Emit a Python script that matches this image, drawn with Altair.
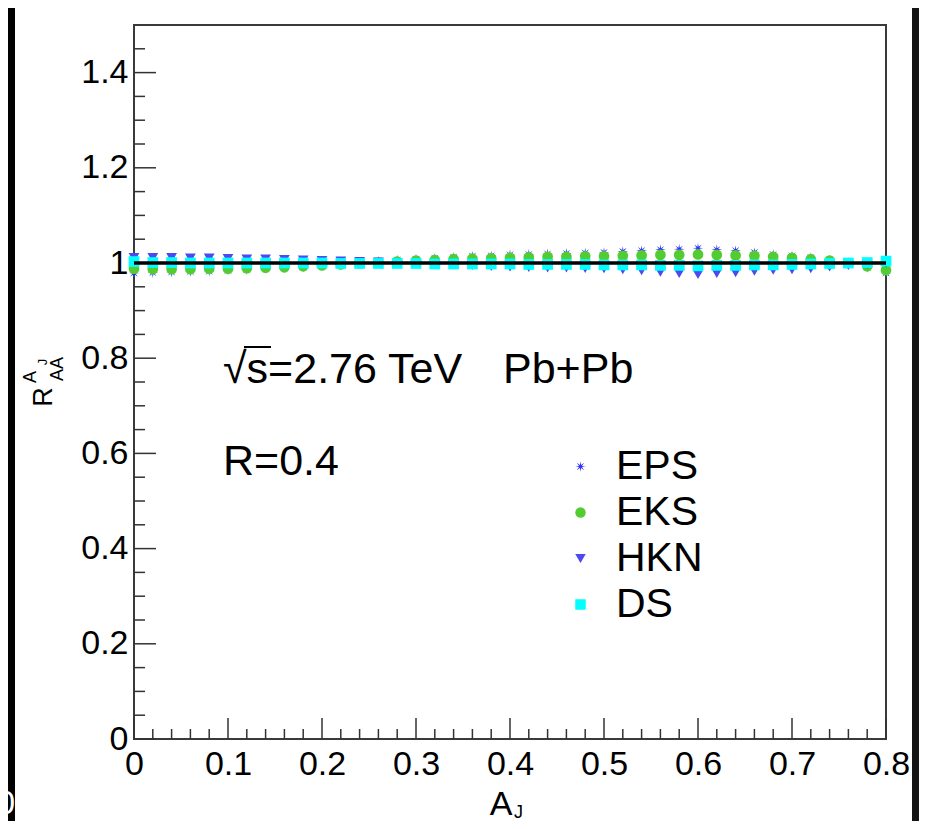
import math
import altair as alt
import pandas as pd

# ---------------- data ----------------
aj = [0.00, 0.02, 0.04, 0.06, 0.08, 0.10, 0.12, 0.14, 0.16, 0.18,
      0.20, 0.22, 0.24, 0.26, 0.28, 0.30, 0.32, 0.34, 0.36, 0.38,
      0.40, 0.42, 0.44, 0.46, 0.48, 0.50, 0.52, 0.54, 0.56, 0.58,
      0.60, 0.62, 0.64, 0.66, 0.68, 0.70, 0.72, 0.74, 0.76, 0.78, 0.80]

eps = [0.979, 0.980, 0.981, 0.982, 0.983, 0.985, 0.986, 0.988, 0.990, 0.992,
       0.995, 0.998, 1.001, 1.004, 1.006, 1.008, 1.010, 1.012, 1.014, 1.015,
       1.017, 1.018, 1.019, 1.020, 1.021, 1.022, 1.024, 1.026, 1.028, 1.029,
       1.031, 1.028, 1.026, 1.022, 1.018, 1.015, 1.011, 1.006, 1.001, 0.991, 0.979]

eks = [0.988, 0.987, 0.987, 0.987, 0.988, 0.988, 0.989, 0.990, 0.991, 0.993,
       0.995, 0.997, 0.999, 1.001, 1.003, 1.005, 1.006, 1.008, 1.009, 1.010,
       1.011, 1.012, 1.013, 1.013, 1.014, 1.014, 1.015, 1.016, 1.017, 1.017,
       1.018, 1.017, 1.016, 1.015, 1.013, 1.011, 1.008, 1.005, 1.000, 0.993, 0.985]

hkn = [1.011, 1.011, 1.011, 1.010, 1.010, 1.009, 1.008, 1.008, 1.007, 1.006,
       1.005, 1.004, 1.003, 1.002, 1.000, 0.999, 0.998, 0.996, 0.995, 0.993,
       0.992, 0.991, 0.990, 0.990, 0.989, 0.988, 0.986, 0.984, 0.981, 0.978,
       0.976, 0.978, 0.980, 0.983, 0.985, 0.986, 0.988, 0.992, 0.995, 0.997, 1.000]

ds = [1.003, 1.001, 1.001, 1.000, 1.000, 1.000, 1.000, 1.000, 1.000, 1.000,
      1.000, 0.999, 0.999, 0.999, 0.999, 0.999, 0.998, 0.998, 0.998, 0.998,
      0.998, 0.997, 0.997, 0.997, 0.997, 0.996, 0.996, 0.996, 0.995, 0.995,
      0.994, 0.995, 0.995, 0.996, 0.996, 0.997, 0.998, 0.999, 1.000, 1.001, 1.004]

series_names = ["EPS", "EKS", "HKN", "DS"]
series_colors = ["#3232ff", "#52cc30", "#4a4aee", "#00ffff"]

ref_x = [0.0, 0.8]
ref_y = [1.0, 1.0]

x_major = [0, 0.1, 0.2, 0.3, 0.4, 0.5, 0.6, 0.7, 0.8]
x_minor = [0.02, 0.04, 0.06, 0.08, 0.12, 0.14, 0.16, 0.18, 0.22, 0.24, 0.26, 0.28,
           0.32, 0.34, 0.36, 0.38, 0.42, 0.44, 0.46, 0.48, 0.52, 0.54, 0.56, 0.58,
           0.62, 0.64, 0.66, 0.68, 0.72, 0.74, 0.76, 0.78]
y_major = [0, 0.2, 0.4, 0.6, 0.8, 1.0, 1.2, 1.4]
y_minor = [0.05, 0.1, 0.15, 0.25, 0.3, 0.35, 0.45, 0.5, 0.55, 0.65, 0.7, 0.75,
           0.85, 0.9, 0.95, 1.05, 1.1, 1.15, 1.25, 1.3, 1.35, 1.45]

energy_text = "\u221as=2.76 TeV"
system_text = "Pb+Pb"
radius_text = "R=0.4"

# ---------------- layout ----------------
W, H = 752, 714
PAD_L, PAD_T, PAD_R, PAD_B = 126, 17, 33, 82
FONT = "Liberation Sans"

# asterisk-like symbol (8 arms)
star = []
for k in range(16):
    a = math.radians(k * 22.5)
    r = 1.0 if k % 2 == 0 else 0.3
    star.append(f"{r * math.cos(a):.3f},{r * math.sin(a):.3f}")
asterisk = "M" + "L".join(star) + "Z"
shapes = [asterisk, "circle", "triangle-down", "square"]

rows = []
for name, vals in zip(series_names, [eps, eks, hkn, ds]):
    for xv, yv in zip(aj, vals):
        rows.append({"aj": xv, "r": yv, "series": name})
df = pd.DataFrame(rows)

xscale = alt.Scale(domain=[0, 0.8], nice=False, zero=False)
yscale = alt.Scale(domain=[0, 1.5], nice=False, zero=False)

xaxis = alt.Axis(values=x_major, format="~g", labelFont=FONT, labelFontSize=34,
                 labelColor="black", ticks=False, tickSize=0, domain=False, grid=False,
                 labelPadding=8, labelFlush=False, labelOverlap=False, labelBound=False,
                 title=None)
yaxis = alt.Axis(values=y_major, format="~g", labelFont=FONT, labelFontSize=34,
                 labelColor="black", ticks=False, tickSize=0, domain=False, grid=False,
                 labelPadding=6, labelFlush=False, labelOverlap=False, labelBound=False,
                 title=None)

legend = alt.Legend(orient="none", legendX=426, legendY=421, title=None,
                    labelFont=FONT, labelFontSize=41, labelColor="black",
                    symbolSize=110, labelOffset=15, rowPadding=4, padding=0,
                    symbolStrokeWidth=0, symbolOpacity=1, labelLimit=0)

points = alt.Chart(df).mark_point(filled=True, opacity=1, size=115).encode(
    x=alt.X("aj:Q", scale=xscale, axis=xaxis),
    y=alt.Y("r:Q", scale=yscale, axis=yaxis),
    color=alt.Color("series:N", scale=alt.Scale(domain=series_names, range=series_colors),
                    legend=legend),
    shape=alt.Shape("series:N", scale=alt.Scale(domain=series_names, range=shapes),
                    legend=legend),
)

ref_line = alt.Chart(pd.DataFrame({"aj": ref_x, "r": ref_y})).mark_line(
    color="black", strokeWidth=3.5).encode(
    x=alt.X("aj:Q", scale=xscale), y=alt.Y("r:Q", scale=yscale))

# ticks drawn inside the frame
xmaj = alt.Chart(pd.DataFrame({"t": x_major})).mark_rule(color="#333333", strokeWidth=1.5).encode(
    x=alt.X("t:Q", scale=xscale), y=alt.value(H), y2=alt.value(H - 21))
xmin = alt.Chart(pd.DataFrame({"t": x_minor})).mark_rule(color="#333333", strokeWidth=1.5).encode(
    x=alt.X("t:Q", scale=xscale), y=alt.value(H), y2=alt.value(H - 10))
ymaj = alt.Chart(pd.DataFrame({"t": y_major})).mark_rule(color="#333333", strokeWidth=1.5).encode(
    y=alt.Y("t:Q", scale=yscale), x=alt.value(0), x2=alt.value(22))
ymin = alt.Chart(pd.DataFrame({"t": y_minor})).mark_rule(color="#333333", strokeWidth=1.5).encode(
    y=alt.Y("t:Q", scale=yscale), x=alt.value(0), x2=alt.value(11))


def label(text, x, y, size, angle=0, align="center", baseline="alphabetic", color="black"):
    return alt.Chart(pd.DataFrame({"txt": [text]})).mark_text(
        font=FONT, fontSize=size, angle=angle, align=align, baseline=baseline, color=color
    ).encode(text="txt:N", x=alt.value(x), y=alt.value(y))


texts = [
    label(energy_text, 89, 358, 43, align="left"),
    label(system_text, 369, 358, 43, align="left"),
    label(radius_text, 89, 450, 43, align="left"),
    # x title A_J
    label("A", 367, 790, 34),
    label("J", 380, 793, 18, align="left"),
    # y title R_AA^{A_J}
    label("R", -90, 372, 27, angle=270, baseline="middle"),
    label("AA", -76, 344, 18, angle=270, baseline="middle"),
    label("A", -103, 352, 18, angle=270, baseline="middle"),
    label("J", -91, 337, 13, angle=270, baseline="middle"),
    # stray label at the left edge
    label("0", -119, 789, 33, align="right", color="white"),
]

# overline of the square root sign
sqrt_bar = alt.Chart(pd.DataFrame({"k": [0]})).mark_rule(color="black", strokeWidth=2).encode(
    x=alt.value(110), x2=alt.value(137), y=alt.value(322))

strip_l = alt.Chart(pd.DataFrame({"k": [0]})).mark_rect(color="black").encode(
    x=alt.value(-PAD_L), x2=alt.value(-PAD_L + 7), y=alt.value(-PAD_T), y2=alt.value(H + PAD_B))
strip_r = alt.Chart(pd.DataFrame({"k": [0]})).mark_rect(color="#141414").encode(
    x=alt.value(W + PAD_R - 7), x2=alt.value(W + PAD_R), y=alt.value(-PAD_T), y2=alt.value(H + PAD_B))

chart = alt.layer(
    strip_l, strip_r, xmin, xmaj, ymin, ymaj, points, ref_line, sqrt_bar, *texts
).properties(
    width=W, height=H,
    padding={"left": PAD_L, "top": PAD_T, "right": PAD_R, "bottom": PAD_B},
    autosize=alt.AutoSizeParams(type="none"),
).configure(
    font=FONT, background="white",
    view=alt.ViewConfig(stroke="#3a3a3a", strokeWidth=2),
)

chart.save("out.html", embed_options={"renderer": "svg", "actions": False})
